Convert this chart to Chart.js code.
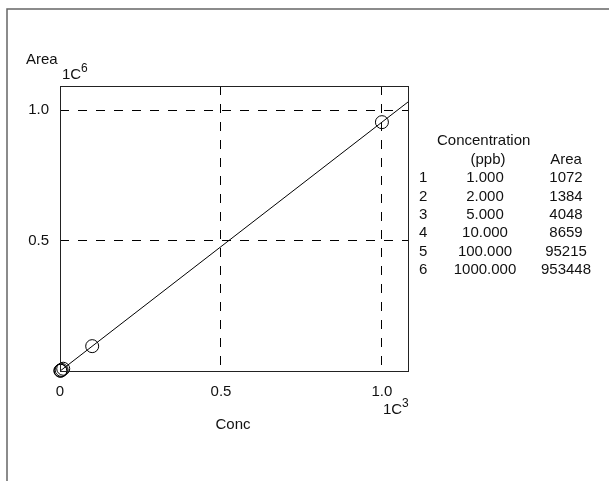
<!DOCTYPE html>
<html>
<head>
<meta charset="utf-8">
<script src="https://cdn.jsdelivr.net/npm/chart.js@4.4.1/dist/chart.umd.min.js"></script>
<style>
  body { margin: 0; background: #fff; }
  #calib { display: block; }
</style>
</head>
<body>
<canvas id="calib" width="609" height="481"></canvas>
<script>
// calibration standards (ppb) and measured peak area
const concentration = [1, 2, 5, 10, 100, 1000];
const area = [1072, 1384, 4048, 8659, 95215, 953448];
// fitted calibration line at the plot edges
const fitConc = [0, 1081];
const fitArea = [-440, 1030700];
// ticks
const xTicks = [0, 500, 1000];
const xTickLabels = ['0', '0.5', '1.0'];
const yTicks = [500000, 1000000];
const yTickLabels = ['0.5', '1.0'];

const FONT = '15px "Liberation Sans", Arial, sans-serif';
const SMALL = '12px "Liberation Sans", Arial, sans-serif';

function gridColor(ctx) {
    return ctx.tick && ctx.tick.value === 0 ? 'rgba(0,0,0,0)' : '#000';
}

const decorations = {
    id: 'decorations',
    afterDraw(chart) {
        const c = chart.ctx;
        const a = chart.chartArea;
        const xs = chart.scales.x;
        const ys = chart.scales.y;
        c.save();

        // outer frame
        c.strokeStyle = '#666';
        c.lineWidth = 1.5;
        c.beginPath();
        c.moveTo(7, 481);
        c.lineTo(7, 9);
        c.lineTo(609, 9);
        c.stroke();

        // plot box
        c.strokeStyle = '#222';
        c.lineWidth = 1;
        c.strokeRect(Math.round(a.left) + 0.5, Math.round(a.top) + 0.5,
            Math.round(a.right - a.left), Math.round(a.bottom - a.top));

        c.fillStyle = '#111';
        c.font = FONT;
        c.textBaseline = 'middle';

        // y axis labels
        c.textAlign = 'right';
        yTicks.forEach((v, i) => c.fillText(yTickLabels[i], a.left - 11, ys.getPixelForValue(v)));
        c.textAlign = 'left';
        c.fillText('Area', 26, 60);
        c.fillText('1C', 62, 75);
        c.font = SMALL;
        c.fillText('6', 81, 69);

        // x axis labels
        c.font = FONT;
        c.textAlign = 'center';
        xTicks.forEach((v, i) => c.fillText(xTickLabels[i], xs.getPixelForValue(v), a.bottom + 21));
        c.fillText('Conc', 233, 425);
        c.textAlign = 'left';
        c.fillText('1C', 383, 410);
        c.font = SMALL;
        c.fillText('3', 402, 404);

        // table of standards
        c.font = FONT;
        c.textAlign = 'left';
        c.fillText('Concentration', 437, 141);
        c.textAlign = 'center';
        c.fillText('(ppb)', 488, 159.5);
        c.fillText('Area', 566, 159.5);
        concentration.forEach((v, i) => {
            const y = 178 + i * 18.4;
            c.textAlign = 'left';
            c.fillText(String(i + 1), 419, y);
            c.textAlign = 'center';
            c.fillText(v.toFixed(3), 485, y);
            c.fillText(String(area[i]), 566, y);
        });
        c.restore();
    }
};

new Chart(document.getElementById('calib'), {
    type: 'scatter',
    data: {
        datasets: [
            {
                label: 'fit',
                data: fitConc.map((x, i) => ({ x: x, y: fitArea[i] })),
                showLine: true,
                borderColor: '#000',
                borderWidth: 1,
                pointRadius: 0
            },
            {
                label: 'standards',
                data: concentration.map((x, i) => ({ x: x, y: area[i] })),
                pointStyle: 'circle',
                pointRadius: 6.5,
                pointHoverRadius: 6.5,
                pointBorderWidth: 1,
                pointBorderColor: '#000',
                pointBackgroundColor: 'rgba(0,0,0,0)',
                clip: false
            }
        ]
    },
    options: {
        responsive: false,
        animation: false,
        devicePixelRatio: 1,
        layout: { padding: { left: 60, top: 86, right: 201, bottom: 110 } },
        plugins: { legend: { display: false }, tooltip: { enabled: false } },
        scales: {
            x: {
                type: 'linear',
                min: 0,
                max: 1081,
                afterBuildTicks: s => { s.ticks = xTicks.map(v => ({ value: v })); },
                ticks: { display: false },
                grid: { color: gridColor, drawTicks: false, lineWidth: 1 },
                border: { display: false, dash: [9, 9] }
            },
            y: {
                type: 'linear',
                min: 0,
                max: 1092000,
                afterBuildTicks: s => { s.ticks = [0].concat(yTicks).map(v => ({ value: v })); },
                ticks: { display: false },
                grid: { color: gridColor, drawTicks: false, lineWidth: 1 },
                border: { display: false, dash: [9, 9] }
            }
        }
    },
    plugins: [decorations]
});
</script>
</body>
</html>
